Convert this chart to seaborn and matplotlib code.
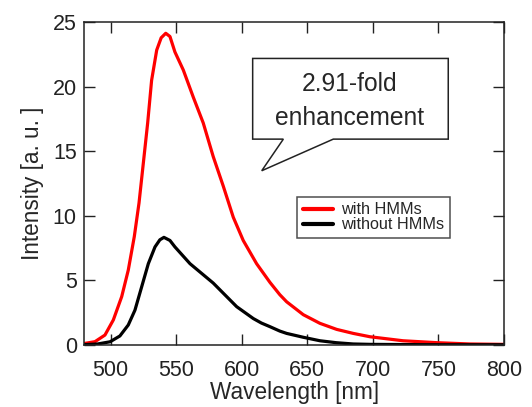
import matplotlib
matplotlib.use("Agg")
import matplotlib.pyplot as plt
from matplotlib.patches import Polygon
import seaborn as sns
import pandas as pd

# "with HMMs" spectrum
with_wl = [480, 488, 495.6, 502, 508.4, 513.4, 518, 521.6, 524.9, 528.2, 531.2, 535.1, 538.5,
           542, 545.2, 549, 555.4, 563, 570.6, 578.2, 585.9, 593.5, 601.1, 611.3, 621.5, 629,
           634.2, 646.9, 659.6, 672.4, 685, 697.8, 723, 749, 774, 800]
with_int = [0.12, 0.26, 0.77, 1.94, 3.75, 5.8, 8.4, 11.0, 14.1, 17.2, 20.5, 22.85, 23.8,
            24.15, 23.9, 22.7, 21.3, 19.2, 17.2, 14.6, 12.3, 9.9, 8.1, 6.3, 4.85, 3.9,
            3.35, 2.35, 1.68, 1.21, 0.9, 0.64, 0.33, 0.18, 0.08, 0.05]
# "without HMMs" spectrum
without_wl = [480, 490, 499.5, 507, 513.4, 518.5, 523.6, 528.7, 533.8, 537.5, 540.6, 545.2,
              549, 560.5, 578.2, 596.1, 608.8, 615, 621.5, 629, 634.2, 646.9, 659.6, 672, 685,
              698, 750, 800]
without_int = [0.03, 0.08, 0.25, 0.7, 1.55, 2.7, 4.5, 6.3, 7.6, 8.15, 8.34, 8.1,
               7.6, 6.3, 4.8, 2.97, 2.05, 1.7, 1.42, 1.08, 0.9, 0.6, 0.33, 0.18, 0.08,
               0.05, 0.02, 0.02]
series_names = ["with HMMs", "without HMMs"]
xticks = [500, 550, 600, 650, 700, 750, 800]
yticks = [0, 5, 10, 15, 20, 25]
annotation_lines = ["2.91-fold", "enhancement"]

df = pd.DataFrame({
    "Wavelength": with_wl + without_wl,
    "Intensity": with_int + without_int,
    "Series": [series_names[0]] * len(with_wl) + [series_names[1]] * len(without_wl),
})

sns.set_theme(style="ticks")
plt.rcParams["font.family"] = ["Liberation Sans", "DejaVu Sans"]

fig = plt.figure(figsize=(5.32, 4.07), dpi=100)
ax = fig.add_axes([0.1588, 0.1523, 0.7885, 0.7929])

sns.lineplot(data=df, x="Wavelength", y="Intensity", hue="Series",
             palette={series_names[0]: "#ff0000", series_names[1]: "#000000"},
             linewidth=2.3, ax=ax, legend=True)

ax.set_xlim(480, 800)
ax.set_ylim(0, 25)
ax.set_xticks(xticks)
ax.set_yticks(yticks)
ax.tick_params(direction="in", length=8, width=1.0, top=True, right=True,
               labelsize=15.5, colors="#222222")
ax.tick_params(axis="x", pad=10.5)
ax.tick_params(axis="y", pad=5.5)
for s in ax.spines.values():
    s.set_visible(True)
    s.set_linewidth(1.1)
    s.set_color("#222222")
ax.set_xlabel("Wavelength [nm]", fontsize=16.3, labelpad=0)
ax.set_ylabel("Intensity [a. u. ]", fontsize=16.3, labelpad=6)

leg = ax.legend(loc="upper right", bbox_to_anchor=(0.871, 0.46), fontsize=11.7,
                frameon=True, fancybox=False, handlelength=1.85, borderpad=0.35,
                labelspacing=0.0, handletextpad=0.5, borderaxespad=0)
leg.get_frame().set_edgecolor("#222222")
leg.get_frame().set_linewidth(1.1)
for line in leg.get_lines():
    line.set_linewidth(3)

callout = Polygon([(608.3, 22.2), (757.5, 22.2), (757.5, 15.95), (669.8, 15.95),
                   (615.2, 13.5), (631.7, 15.95), (608.3, 15.95)],
                  closed=True, facecolor="white", edgecolor="#222222", linewidth=1.1, zorder=5)
ax.add_patch(callout)
ax.text(682.5, 20.2, annotation_lines[0], ha="center", va="center", fontsize=17.7, zorder=6)
ax.text(682.5, 17.6, annotation_lines[1], ha="center", va="center", fontsize=17.7, zorder=6)

fig.savefig("out.png", dpi=100)
